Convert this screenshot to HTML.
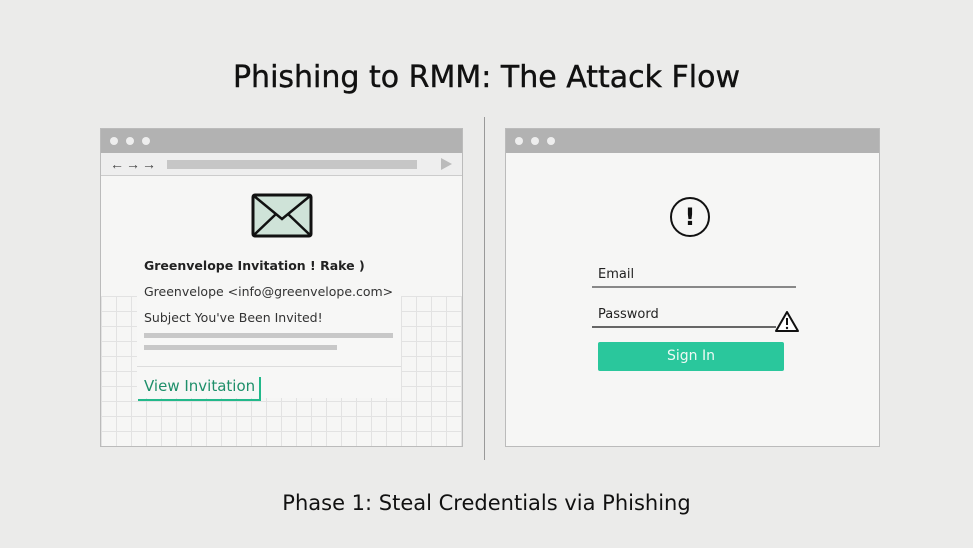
<!DOCTYPE html>
<html><head><style>
body{margin:0;width:973px;height:548px;background:#ebebea;font-family:"DejaVu Sans","Liberation Sans",sans-serif;position:relative;overflow:hidden}
.a{position:absolute}
</style></head><body>
<div class="a" style="left:0;top:60px;width:973px;text-align:center;font-size:30px;color:#111;font-weight:normal;-webkit-text-stroke:0.4px #111">Phishing to RMM: The Attack Flow</div>
<div class="a" style="left:484px;top:117px;width:1px;height:343px;background:#999"></div>

<!-- left window -->
<div class="a" style="left:100px;top:128px;width:361px;height:317px;border:1px solid #bbb;background:#f6f6f5;overflow:hidden">
  <div class="a" style="left:0;top:0;width:361px;height:24px;background:#b2b2b2"></div>
  <div class="a" style="left:9px;top:8px;width:8px;height:8px;border-radius:50%;background:#eee"></div>
  <div class="a" style="left:25px;top:8px;width:8px;height:8px;border-radius:50%;background:#eee"></div>
  <div class="a" style="left:41px;top:8px;width:8px;height:8px;border-radius:50%;background:#eee"></div>
  <div class="a" style="left:0;top:24px;width:361px;height:22px;background:#eeeeee;border-bottom:1px solid #ccc"></div>
  <div class="a" style="left:9px;top:27px;font-size:14px;color:#444;font-family:'Liberation Sans',sans-serif;letter-spacing:2px">←→→</div>
  <div class="a" style="left:66px;top:31px;width:250px;height:9px;background:#c6c6c6"></div>
  <div class="a" style="left:340px;top:29px;width:0;height:0;border-left:11px solid #bbb;border-top:6px solid transparent;border-bottom:6px solid transparent"></div>
  <div class="a" style="left:0;top:167px;width:361px;height:150px;background-image:linear-gradient(#e2e2e2 1px,transparent 1px),linear-gradient(90deg,#e2e2e2 1px,transparent 1px);background-size:15px 15px"></div>
  <div class="a" style="left:36px;top:167px;width:264px;height:102px;background:#f7f7f6"></div>
  <div class="a" style="left:36px;top:237px;width:264px;height:1px;background:#ddd"></div>
  <svg class="a" style="left:150px;top:64px" width="62" height="46"><rect x="2" y="2" width="58" height="41" rx="2" fill="#cfe3d8" stroke="#111" stroke-width="3"/><path d="M3 3 L31 26 L59 3 M3 42 L25 21 M59 42 L37 21" fill="none" stroke="#111" stroke-width="2.5"/></svg>
  <div class="a" style="left:43px;top:129px;font-size:12.5px;font-weight:bold;color:#222">Greenvelope Invitation ! Rake )</div>
  <div class="a" style="left:43px;top:155px;font-size:12.5px;color:#333">Greenvelope &lt;info@greenvelope.com&gt;</div>
  <div class="a" style="left:43px;top:181px;font-size:12.5px;color:#333">Subject You've Been Invited!</div>
  <div class="a" style="left:43px;top:204px;width:249px;height:5px;background:#c8c8c8"></div>
  <div class="a" style="left:43px;top:216px;width:193px;height:5px;background:#c8c8c8"></div>
  <div class="a" style="left:43px;top:248px;font-size:15px;color:#1e8f6a">View Invitation</div>
  <div class="a" style="left:37px;top:270px;width:123px;height:2px;background:#22b88a"></div>
  <div class="a" style="left:158px;top:248px;width:2px;height:24px;background:#22b88a"></div>
</div>

<!-- right window -->
<div class="a" style="left:505px;top:128px;width:373px;height:317px;border:1px solid #bbb;background:#f6f6f5">
  <div class="a" style="left:0;top:0;width:373px;height:24px;background:#b2b2b2"></div>
  <div class="a" style="left:9px;top:8px;width:8px;height:8px;border-radius:50%;background:#eee"></div>
  <div class="a" style="left:25px;top:8px;width:8px;height:8px;border-radius:50%;background:#eee"></div>
  <div class="a" style="left:41px;top:8px;width:8px;height:8px;border-radius:50%;background:#eee"></div>
  <div class="a" style="left:164px;top:68px;width:36px;height:36px;border:2.5px solid #111;border-radius:50%;text-align:center;line-height:36px;font-size:24px;font-weight:bold;color:#111">!</div>
  <div class="a" style="left:92px;top:138px;font-size:13px;color:#222">Email</div>
  <div class="a" style="left:86px;top:157px;width:204px;height:2px;background:#888"></div>
  <div class="a" style="left:92px;top:178px;font-size:13px;color:#222">Password</div>
  <div class="a" style="left:86px;top:197px;width:184px;height:2px;background:#666"></div>
  <svg class="a" style="left:268px;top:181px" width="26" height="23"><path d="M13 2 L24 21 L2 21 Z" fill="#fff" stroke="#111" stroke-width="2" stroke-linejoin="round"/><path d="M13 8 V15" stroke="#111" stroke-width="2"/><circle cx="13" cy="18" r="1.2" fill="#111"/></svg>
  <div class="a" style="left:92px;top:213px;width:186px;height:29px;background:#2ac79c;border-radius:2px;color:#eefaf5;font-size:14px;text-align:center;line-height:29px">Sign In</div>
</div>

<div class="a" style="left:0;top:491px;width:973px;text-align:center;font-size:21px;color:#111">Phase 1: Steal Credentials via Phishing</div>
</body></html>
